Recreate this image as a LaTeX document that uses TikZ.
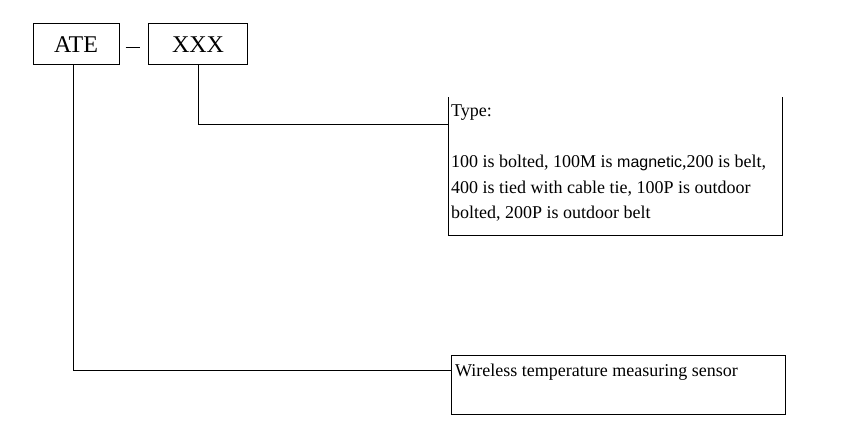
\documentclass[tikz,border=0pt]{standalone}
\usepackage{fontspec}
\setmainfont{Liberation Serif}
\newfontfamily\sansmag{Liberation Sans}
\begin{document}
\begin{tikzpicture}[x=1pt,y=-1pt,
  box/.style={draw,line width=1pt,rectangle,inner sep=0pt},
  lbl/.style={anchor=base west,inner sep=0pt,font=\fontsize{18}{25.5}\selectfont},
  conn/.style={line width=1pt}]
\useasboundingbox (0,0) rectangle (845,433);
\node[box,minimum width=86pt,minimum height=41pt,font=\fontsize{24}{26}\selectfont] (ate) at (76,44.5) {ATE};
\node[box,minimum width=99.5pt,minimum height=41pt,font=\fontsize{24}{26}\selectfont] (xxx) at (198,44.5) {XXX};
\draw[conn] ([xshift=6pt,yshift=-3.2pt]ate.east) -- ([xshift=-7.5pt,yshift=-3.2pt]xxx.west);
% type box (open top)
\node[inner sep=0pt,minimum width=334pt,minimum height=137.3pt] (typebox) at (615.3,166.35) {};
\draw[conn] (typebox.north west) -- (typebox.south west) -- (typebox.south east) -- (typebox.north east);
\node[lbl] (t0) at (451,117) {Type:};
\node[lbl] (t1) at (451,167.3) {100 is bolted, 100M is {\sansmag\fontsize{16}{25}\selectfont magnetic},200 is belt,};
\node[lbl] (t2) at (451,193.3) {400 is tied with cable tie, 100P is outdoor};
\node[lbl] (t3) at (451,218.3) {bolted, 200P is outdoor belt};
% sensor box
\node[box,minimum width=334pt,minimum height=59pt] (sensor) at (618.7,384.5) {};
\node[lbl] (s1) at (455,376) {Wireless temperature measuring sensor};
% connectors
\draw[conn] (xxx.south) |- ([yshift=42pt]typebox.west);
\draw[conn] ([xshift=-2.5pt]ate.south) |- ([yshift=13.8pt]sensor.west);
\end{tikzpicture}
\end{document}
